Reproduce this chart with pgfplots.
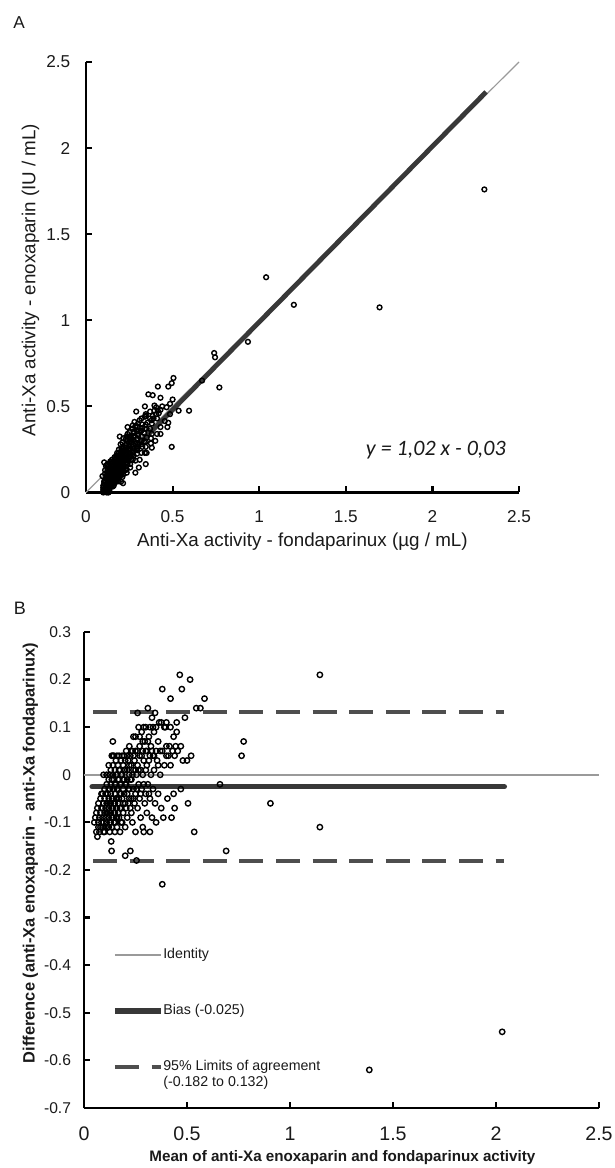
\documentclass[border=0pt]{standalone}
\usepackage{fontspec}
\setmainfont{Liberation Sans}
\newfontfamily\calibri{Carlito}
\usepackage{pgfplots}
\pgfplotsset{compat=1.18}
\definecolor{IdGray}{HTML}{9A9A9A}
\definecolor{FitDark}{HTML}{383838}
\definecolor{LoaGray}{HTML}{4E4E4E}
\definecolor{TxtDark}{HTML}{1A1A1A}

\pgfplotsset{
  panel/.style={
    scale only axis, enlargelimits=false, clip=false,
    axis x line=bottom, axis y line=left,
    axis line style={-, line width=1.2pt, black},
    tick align=inside, tick style={line width=1.1pt, black},
    /pgf/number format/assume math mode=true,
    /pgf/number format/fixed,
    xmin=0, xmax=2.5, xtick={0,0.5,1,1.5,2,2.5},
    xticklabel style={inner sep=0pt, anchor=north, text=TxtDark},
    yticklabel style={inner sep=0pt, anchor=east, text=TxtDark},
  },
  dots/.style={only marks, mark=o, black, mark size=#1, mark options={line width=0.7pt}},
}

\begin{document}
\begin{tikzpicture}
\path[use as bounding box] (0,0) rectangle (307.5pt,584pt);

% ---------------- panel A
\node[font=\fontsize{8.6}{10}\selectfont, text=TxtDark] at (9.5pt,572.5pt) {A};
\node[font=\fontsize{9.4}{11}\selectfont, text=TxtDark, rotate=90] at (15.2pt,444pt)
  {Anti-Xa activity - enoxaparin (IU / mL)};
\node[font=\fontsize{9.4}{11}\selectfont, text=TxtDark] at (151.2pt,313.25pt)
  {Anti-Xa activity - fondaparinux (µg / mL)};

\begin{axis}[panel,
  at={(43pt,337.75pt)}, anchor=south west,
  width=216.5pt, height=215.25pt,
  ymin=0, ymax=2.5, ytick={0,0.5,1,1.5,2,2.5},
  major tick length=3pt,
  xticklabel style={font=\fontsize{8.6}{10}\selectfont, yshift=-8.7pt},
  yticklabel style={font=\fontsize{8.6}{10}\selectfont, xshift=-7.7pt},
]
\addplot[IdGray, line width=0.6pt] coordinates {(0,0) (2.5,2.5)};
\addplot[FitDark, line width=2.4pt] coordinates {(0.10,0.072) (2.31,2.326)};
\addplot[dots=1.2pt] table {
x y
0.10 0.00
0.10 0.01
0.12 0.00
0.13 0.00
0.10 0.02
0.12 0.02
0.10 0.03
0.125 0.015
0.10 0.04
0.135 0.015
0.12 0.03
0.105 0.055
0.12 0.04
0.135 0.035
0.12 0.05
0.145 0.035
0.11 0.07
0.135 0.045
0.125 0.065
0.095 0.095
0.145 0.045
0.14 0.06
0.125 0.075
0.16 0.04
0.115 0.085
0.14 0.07
0.15 0.06
0.12 0.10
0.14 0.08
0.16 0.06
0.135 0.095
0.155 0.075
0.17 0.06
0.125 0.115
0.145 0.095
0.155 0.085
0.165 0.075
0.11 0.13
0.14 0.11
0.155 0.095
0.175 0.075
0.185 0.065
0.125 0.135
0.15 0.11
0.17 0.09
0.14 0.12
0.202 0.062
0.214 0.054
0.115 0.155
0.16 0.11
0.17 0.10
0.19 0.08
0.14 0.14
0.155 0.125
0.185 0.095
0.105 0.175
0.13 0.15
0.15 0.14
0.175 0.115
0.195 0.095
0.125 0.165
0.17 0.13
0.19 0.11
0.145 0.155
0.21 0.09
0.165 0.145
0.18 0.13
0.14 0.17
0.20 0.11
0.16 0.16
0.195 0.125
0.215 0.105
0.14 0.18
0.18 0.15
0.155 0.175
0.195 0.135
0.175 0.165
0.215 0.125
0.15 0.19
0.195 0.155
0.235 0.115
0.17 0.18
0.19 0.17
0.215 0.145
0.165 0.195
0.185 0.185
0.21 0.16
0.235 0.135
0.18 0.20
0.205 0.175
0.23 0.15
0.175 0.215
0.20 0.19
0.285 0.115
0.23 0.17
0.195 0.205
0.255 0.145
0.215 0.195
0.18 0.23
0.23 0.19
0.205 0.215
0.255 0.165
0.20 0.23
0.245 0.185
0.19 0.25
0.235 0.205
0.22 0.22
0.305 0.145
0.26 0.19
0.205 0.245
0.235 0.225
0.255 0.205
0.22 0.24
0.285 0.185
0.21 0.26
0.20 0.28
0.255 0.225
0.235 0.245
0.275 0.215
0.23 0.26
0.27 0.23
0.225 0.275
0.31 0.19
0.345 0.165
0.255 0.255
0.195 0.325
0.25 0.27
0.295 0.225
0.215 0.315
0.275 0.255
0.24 0.30
0.295 0.245
0.25 0.29
0.27 0.28
0.32 0.23
0.235 0.325
0.295 0.265
0.26 0.31
0.285 0.285
0.34 0.23
0.24 0.34
0.35 0.23
0.275 0.305
0.325 0.265
0.26 0.33
0.295 0.305
0.32 0.28
0.25 0.35
0.28 0.33
0.345 0.265
0.24 0.38
0.32 0.30
0.275 0.355
0.30 0.33
0.38 0.26
0.345 0.295
0.27 0.37
0.295 0.355
0.325 0.325
0.27 0.39
0.375 0.285
0.315 0.355
0.35 0.32
0.295 0.385
0.335 0.345
0.28 0.41
0.375 0.315
0.325 0.375
0.40 0.30
0.34 0.37
0.325 0.395
0.38 0.34
0.31 0.42
0.37 0.37
0.32 0.43
0.41 0.34
0.29 0.47
0.355 0.405
0.43 0.34
0.38 0.40
0.345 0.445
0.345 0.455
0.37 0.43
0.43 0.38
0.39 0.43
0.385 0.445
0.34 0.50
0.41 0.43
0.47 0.38
0.405 0.455
0.395 0.475
0.455 0.415
0.475 0.405
0.415 0.475
0.395 0.505
0.405 0.495
0.43 0.48
0.36 0.57
0.485 0.455
0.44 0.50
0.385 0.565
0.465 0.495
0.43 0.55
0.485 0.515
0.535 0.475
0.415 0.615
0.50 0.54
0.595 0.475
0.475 0.615
0.495 0.635
0.505 0.665
0.495 0.265
0.67 0.65
0.77 0.61
0.745 0.785
0.74 0.81
0.935 0.875
1.04 1.25
1.20 1.09
1.695 1.075
2.30 1.76
0.135 0.025
0.105 0.065
0.125 0.055
0.155 0.035
0.125 0.085
0.16 0.05
0.15 0.07
0.11 0.11
0.145 0.085
0.135 0.105
0.175 0.065
0.165 0.085
0.125 0.125
0.16 0.10
0.18 0.08
0.14 0.13
0.18 0.09
0.165 0.115
0.175 0.105
0.12 0.16
0.16 0.13
0.185 0.105
0.18 0.12
0.20 0.10
0.16 0.14
0.155 0.155
0.19 0.12
0.175 0.145
0.185 0.135
0.205 0.115
0.17 0.16
0.205 0.125
0.165 0.175
0.195 0.145
0.185 0.165
0.21 0.14
0.18 0.18
0.20 0.16
0.23 0.13
0.165 0.205
0.195 0.185
0.22 0.16
0.19 0.20
0.215 0.175
0.185 0.215
0.21 0.19
0.24 0.17
0.19 0.23
0.215 0.205
0.23 0.20
0.21 0.23
0.245 0.195
0.23 0.22
0.205 0.255
0.27 0.19
0.235 0.235
0.265 0.215
0.22 0.26
0.245 0.255
0.21 0.29
0.27 0.24
0.235 0.285
0.26 0.27
0.23 0.31
0.295 0.255
0.26 0.30
0.25 0.32
0.30 0.28
0.275 0.325
0.295 0.315
0.275 0.345
0.335 0.295
0.30 0.34
0.305 0.355
0.285 0.385
0.32 0.36
0.30 0.40
0.35 0.37
0.345 0.395
0.34 0.44
0.38 0.42
0.37 0.47
0.42 0.46
};
\node[font=\calibri\itshape\fontsize{11}{13}\selectfont, text=TxtDark] at (axis cs:2.02,0.247)
  {y = 1,02 x - 0,03};
\end{axis}

% ---------------- panel B
\node[font=\fontsize{9}{11}\selectfont, text=TxtDark] at (10pt,280pt) {B};
\node[font=\bfseries\fontsize{8.2}{10}\selectfont, text=TxtDark, rotate=90] at (15.2pt,157.5pt)
  {Difference (anti-Xa enoxaparin - anti-Xa fondaparinux)};
\node[font=\bfseries\fontsize{7.6}{9}\selectfont, text=TxtDark] at (171.2pt,5pt)
  {Mean of anti-Xa enoxaparin and fondaparinux activity};

\begin{axis}[panel,
  at={(42pt,30pt)}, anchor=south west,
  width=257.5pt, height=238pt,
  ymin=-0.7, ymax=0.3,
  ytick={-0.7,-0.6,-0.5,-0.4,-0.3,-0.2,-0.1,0,0.1,0.2,0.3},
  yticklabel style={/pgf/number format/precision=1},
  major tick length=2.8pt,
  xticklabel style={font=\fontsize{9.8}{11}\selectfont, yshift=-9.3pt},
  yticklabel style={font=\fontsize{7.8}{9}\selectfont, xshift=-6.3pt},
]
\addplot[IdGray, line width=1pt] coordinates {(0,0) (2.5,0)};
\addplot[FitDark, line width=2.8pt, line cap=round] coordinates {(0.04,-0.025) (2.04,-0.025)};
\addplot[LoaGray, line width=2pt, dash pattern=on 12pt off 6.3pt] coordinates {(0.044,0.132) (2.04,0.132)};
\addplot[LoaGray, line width=2pt, dash pattern=on 12pt off 6.3pt] coordinates {(0.044,-0.182) (2.04,-0.182)};
\addplot[dots=1.35pt] table {
m d
0.05 -0.10
0.055 -0.09
0.06 -0.12
0.065 -0.13
0.06 -0.08
0.07 -0.10
0.065 -0.07
0.07 -0.11
0.07 -0.06
0.075 -0.12
0.075 -0.09
0.08 -0.05
0.08 -0.08
0.085 -0.10
0.085 -0.07
0.09 -0.11
0.09 -0.04
0.09 -0.09
0.095 -0.06
0.095 0.00
0.095 -0.10
0.10 -0.08
0.10 -0.05
0.10 -0.12
0.10 -0.03
0.105 -0.07
0.105 -0.09
0.11 -0.02
0.11 -0.06
0.11 -0.10
0.115 -0.04
0.115 -0.08
0.115 -0.11
0.12 -0.01
0.12 -0.05
0.12 -0.07
0.12 -0.09
0.12 0.02
0.125 -0.03
0.125 -0.06
0.125 -0.10
0.125 -0.12
0.13 0.01
0.13 -0.04
0.13 -0.08
0.13 -0.02
0.132 -0.14
0.134 -0.16
0.135 0.04
0.135 -0.05
0.135 -0.07
0.135 -0.11
0.14 0.00
0.14 -0.03
0.14 -0.09
0.14 0.07
0.14 0.02
0.145 -0.01
0.145 -0.06
0.145 -0.10
0.145 0.04
0.15 -0.04
0.15 -0.08
0.15 0.01
0.15 -0.12
0.155 -0.02
0.155 -0.05
0.155 0.03
0.155 -0.09
0.16 0.00
0.16 -0.07
0.16 -0.11
0.16 0.04
0.165 -0.03
0.165 0.02
0.165 -0.06
0.17 -0.01
0.17 -0.09
0.17 0.04
0.175 -0.04
0.175 -0.12
0.175 0.01
0.18 -0.02
0.18 -0.07
0.18 0.03
0.185 0.00
0.185 -0.05
0.185 -0.10
0.19 0.02
0.19 -0.03
0.19 -0.08
0.195 0.04
0.195 -0.01
0.20 -0.17
0.20 -0.06
0.20 0.01
0.20 -0.11
0.205 -0.02
0.205 0.05
0.21 -0.04
0.21 0.01
0.21 -0.09
0.215 0.03
0.215 -0.06
0.22 0.06
0.22 -0.03
0.22 0.00
0.225 -0.16
0.225 -0.07
0.225 0.04
0.23 -0.01
0.23 -0.05
0.23 0.02
0.235 -0.10
0.235 0.05
0.24 0.08
0.24 -0.03
0.24 0.01
0.245 -0.06
0.245 0.03
0.25 -0.04
0.25 0.05
0.25 -0.12
0.255 -0.18
0.255 0.00
0.26 0.13
0.26 0.02
0.26 -0.07
0.265 0.10
0.265 -0.02
0.27 0.06
0.27 -0.05
0.27 0.04
0.275 0.01
0.275 -0.09
0.28 0.09
0.28 -0.03
0.285 0.05
0.285 0.00
0.285 -0.11
0.29 0.10
0.29 -0.12
0.29 0.03
0.295 -0.06
0.295 0.07
0.30 0.01
0.30 -0.04
0.30 0.10
0.305 0.05
0.305 -0.08
0.31 0.14
0.31 -0.02
0.315 0.08
0.315 0.03
0.32 -0.12
0.32 -0.05
0.32 0.10
0.325 0.06
0.325 0.00
0.33 0.12
0.33 -0.09
0.335 0.04
0.335 -0.03
0.34 0.09
0.34 0.01
0.345 0.13
0.345 -0.06
0.35 0.05
0.35 -0.10
0.355 0.03
0.36 0.07
0.36 -0.04
0.365 0.11
0.37 0.00
0.375 0.11
0.375 -0.07
0.38 0.18
0.38 0.05
0.385 -0.09
0.39 0.02
0.395 0.10
0.40 0.11
0.40 0.06
0.405 -0.05
0.41 0.04
0.415 0.06
0.42 0.16
0.42 0.02
0.425 -0.09
0.43 0.05
0.435 0.08
0.435 -0.04
0.44 -0.07
0.445 0.06
0.45 0.11
0.45 0.09
0.455 0.05
0.465 0.21
0.47 -0.03
0.47 0.06
0.475 0.18
0.48 0.03
0.49 0.12
0.50 0.03
0.505 -0.06
0.515 0.20
0.52 0.04
0.535 -0.12
0.545 0.14
0.565 0.14
0.585 0.16
0.38 -0.23
0.66 -0.02
0.69 -0.16
0.765 0.04
0.775 0.07
0.905 -0.06
1.145 0.21
1.145 -0.11
1.385 -0.62
2.03 -0.54
0.08 -0.11
0.085 -0.04
0.09 -0.07
0.095 -0.12
0.105 -0.04
0.105 -0.11
0.11 -0.08
0.11 0.00
0.115 -0.06
0.12 -0.03
0.12 -0.11
0.125 -0.08
0.125 0.00
0.13 -0.06
0.13 -0.10
0.135 -0.01
0.135 -0.09
0.14 -0.05
0.14 -0.07
0.14 0.04
0.145 -0.03
0.145 -0.08
0.15 -0.06
0.15 -0.10
0.15 -0.02
0.155 0.00
0.155 -0.07
0.16 -0.03
0.16 -0.05
0.16 -0.09
0.165 -0.01
0.165 -0.08
0.17 0.01
0.17 -0.05
0.175 -0.02
0.175 -0.07
0.18 0.00
0.18 -0.04
0.18 -0.10
0.185 0.04
0.19 -0.01
0.19 -0.06
0.195 0.01
0.195 -0.04
0.20 0.03
0.20 -0.02
0.205 -0.07
0.21 0.04
0.21 -0.01
0.215 -0.03
0.22 0.02
0.22 -0.05
0.225 -0.01
0.23 0.05
0.23 -0.08
0.235 0.00
0.24 -0.05
0.24 0.04
0.25 0.01
0.25 0.08
0.255 -0.03
0.26 0.05
0.265 0.01
0.27 0.08
0.275 -0.04
0.28 0.04
0.285 0.07
0.29 -0.02
0.30 0.05
0.305 0.02
0.31 0.07
0.315 -0.04
0.32 0.04
0.33 0.05
0.335 0.10
0.34 0.04
0.35 0.10
0.36 0.02
0.37 0.05
0.39 0.10
0.40 0.04
0.42 0.10
0.44 0.04
};
% legend
\addplot[IdGray, line width=1pt] coordinates {(0.15,-0.379) (0.374,-0.379)};
\addplot[FitDark, line width=2.8pt] coordinates {(0.15,-0.496) (0.374,-0.496)};
\addplot[LoaGray, line width=2pt, dash pattern=on 12pt off 6.3pt] coordinates {(0.15,-0.614) (0.374,-0.614)};
\begin{scope}[every node/.style={anchor=west, inner sep=0pt, font=\fontsize{7.1}{8.4}\selectfont, text=TxtDark}]
\node at (axis cs:0.383,-0.379) {Identity};
\node at (axis cs:0.383,-0.496) {Bias (-0.025)};
\node at (axis cs:0.383,-0.614) {95\% Limits of agreement};
\node at (axis cs:0.383,-0.647) {(-0.182 to 0.132)};
\end{scope}
\end{axis}
\end{tikzpicture}
\end{document}
